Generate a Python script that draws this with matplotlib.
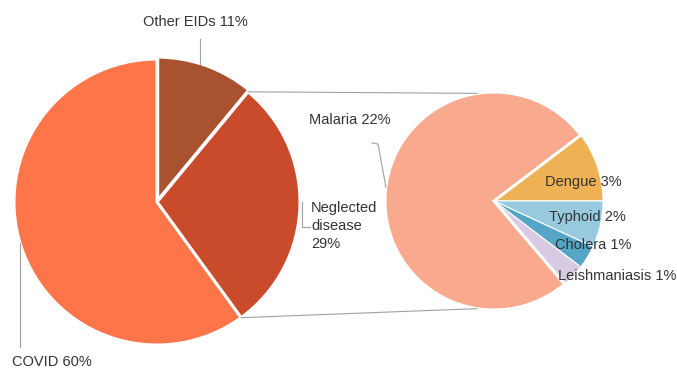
import numpy as np
import matplotlib.pyplot as plt

plt.rcParams['font.family'] = ['Liberation Sans', 'DejaVu Sans']

# overall split of the funding
main_labels = ['Other EIDs', 'Neglected\ndisease', 'COVID']
main_values = [11, 29, 60]
main_colors = ['#a9522f', '#c94b2c', '#fd7549']

# breakdown of the neglected-disease share
sub_labels = ['Dengue', 'Typhoid', 'Cholera', 'Leishmaniasis', 'Malaria']
sub_values = [3, 2, 1, 1, 22]
sub_colors = ['#eeb254', '#97c9df', '#55a5c6', '#d8cae3', '#f9a98d']

W, H = 677, 370
TXT = '#333333'
LEAD = '#a0a0a0'

fig = plt.figure(figsize=(W / 100, H / 100), dpi=100)
ax = fig.add_axes([0, 0, 1, 1])

# work in pixel units, y measured from the bottom
c1, r1 = (157, H - 202), 143
c2, r2 = (494, H - 201), 109

w1, _ = ax.pie(main_values, colors=main_colors, startangle=90,
               counterclock=False, center=c1, radius=r1,
               explode=[2, 0, 0],
               wedgeprops=dict(edgecolor='white', linewidth=2.2))

start2 = 360 * sub_values[0] / sum(sub_values)
w2, _ = ax.pie(sub_values, colors=sub_colors, startangle=start2,
               counterclock=False, center=c2, radius=r2,
               wedgeprops=dict(edgecolor='white', linewidth=0.8))
w2[-1].set_linewidth(2.2)

def on_circle(c, r, ang):
  a = np.radians(ang)
  return c[0] + r * np.cos(a), c[1] + r * np.sin(a)

# connectors from the neglected slice to the breakdown pie
neg = w1[1]
for a_main, a_sub in [(neg.theta2, 99), (neg.theta1, -99)]:
  x0, y0 = on_circle(c1, r1, a_main)
  x1, y1 = on_circle(c2, r2, a_sub)
  ax.plot([x0, x1], [y0, y1], color=LEAD, lw=0.8)

def y_at_x(c, r, x, sign):
  return c[1] + sign * np.sqrt(r**2 - (x - c[0])**2)

# leader lines
ax.plot([200, 200], [H - 39, y_at_x(c1, r1, 200, 1) + 2], color=LEAD, lw=0.8)
ax.plot([20, 20], [y_at_x(c1, r1, 20, -1), H - 347], color=LEAD, lw=0.8)
ax.plot([c1[0] + r1 + 2, c1[0] + r1 + 2, 310], [c1[1], H - 227, H - 227],
        color=LEAD, lw=0.8)
ax.plot([372, 378, c2[0] - np.sqrt(r2**2 - 14**2)], [H - 143, H - 144, H - 187],
        color=LEAD, lw=0.8)

fs = 10.5
seps = [' ', '\n', ' ']
main_pos = [(195, 22, 'center'), (311, 226, 'left'), (12, 362, 'left')]
for lab, v, sp, (x, y, ha) in zip(main_labels, main_values, seps, main_pos):
  ax.text(x, H - y, f'{lab}{sp}{v}%', ha=ha, va='center', fontsize=fs,
          color=TXT, linespacing=1.35)

sub_pos = [(545, 182), (549, 217), (555, 245), (558, 276), (309, 120)]
for lab, v, (x, y) in zip(sub_labels, sub_values, sub_pos):
  ax.text(x, H - y, f'{lab} {v}%', ha='left', va='center', fontsize=fs,
          color=TXT)

ax.set_xlim(0, W)
ax.set_ylim(0, H)
ax.set_aspect('auto')
ax.axis('off')

fig.savefig('out.png', dpi=100)
